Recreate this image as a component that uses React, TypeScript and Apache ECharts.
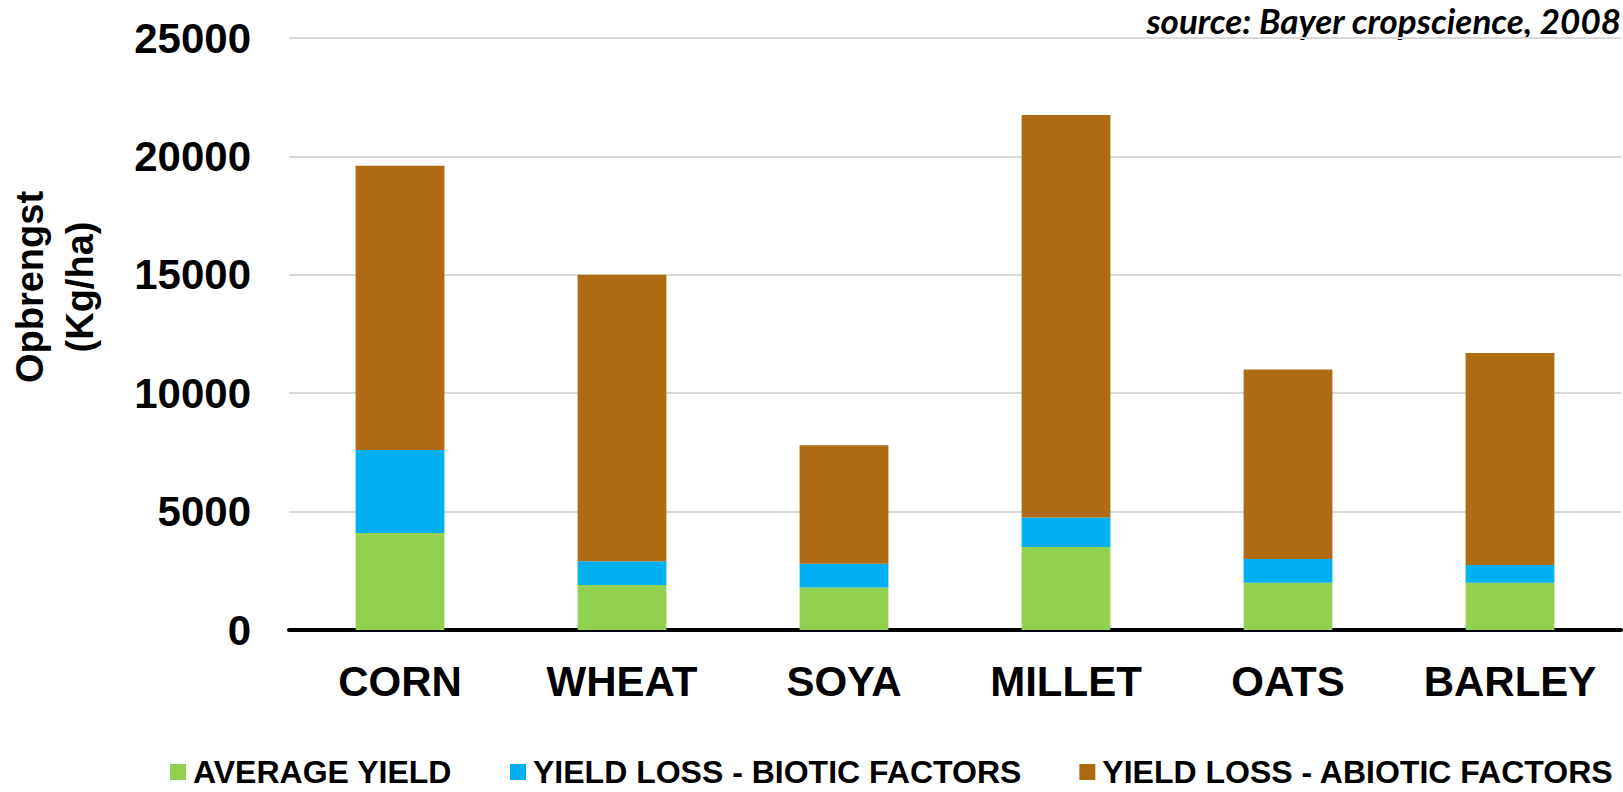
import React, { useEffect, useRef } from "react";
import * as echarts from "echarts";

const categories = ["CORN", "WHEAT", "SOYA", "MILLET", "OATS", "BARLEY"];
const averageYield = [4100, 1900, 1800, 3500, 2000, 2000];
const bioticLoss = [3500, 1000, 1000, 1250, 1000, 750];
const abioticLoss = [12000, 12100, 5000, 17000, 8000, 8950];
const seriesNames = [
  "AVERAGE YIELD",
  "YIELD LOSS - BIOTIC FACTORS",
  "YIELD LOSS - ABIOTIC FACTORS",
];
const colors = ["#92D050", "#00B0F0", "#AE6B12"];
const sourceText = "source: Bayer cropscience, 2008";
const yTitle = "Opbrengst\n(Kg/ha)";

const FONT = "'Liberation Sans', Arial, sans-serif";

export default function App() {
  const ref = useRef<HTMLDivElement>(null);
  useEffect(() => {
    document.body.style.margin = "0";
    const chart = echarts.init(ref.current!, null, { renderer: "svg" });
    const data = [averageYield, bioticLoss, abioticLoss];
    chart.setOption({
      animation: false,
      backgroundColor: "#ffffff",
      grid: { left: 289, right: 2, top: 38, bottom: 162, containLabel: false },
      xAxis: {
        type: "category",
        data: categories,
        axisLine: { lineStyle: { color: "#000", width: 4 } },
        axisTick: { show: false },
        axisLabel: {
          interval: 0,
          color: "#000",
          fontFamily: FONT,
          fontWeight: "bold",
          fontSize: 42,
          margin: 30,
        },
      },
      yAxis: {
        type: "value",
        min: 0,
        max: 25000,
        interval: 5000,
        axisLine: { show: false },
        axisTick: { show: false },
        splitLine: { lineStyle: { color: "#d9d9d9", width: 2 } },
        axisLabel: {
          color: "#000",
          fontFamily: FONT,
          fontWeight: "bold",
          fontSize: 42,
          margin: 38,
          formatter: (v: number) => String(v),
        },
      },
      legend: {
        left: 170,
        top: 756,
        padding: 0,
        itemWidth: 16,
        itemHeight: 16,
        itemGap: 58,
        icon: "rect",
        data: seriesNames,
        textStyle: {
          color: "#000",
          fontFamily: FONT,
          fontWeight: "bold",
          fontSize: 32,
          padding: [0, 0, 0, 2],
        },
      },
      graphic: [
        {
          type: "text",
          x: 1621,
          y: 2,
          style: {
            text: sourceText,
            align: "right",
            verticalAlign: "top",
            fill: "#000",
            font: "italic bold 35px Lato, 'Open Sans', sans-serif",
          },
        },
        {
          type: "text",
          x: 55,
          y: 287,
          rotation: Math.PI / 2,
          style: {
            text: yTitle,
            align: "center",
            verticalAlign: "middle",
            fill: "#000",
            lineHeight: 50,
            font: "bold 38px 'Liberation Sans', Arial, sans-serif",
          },
        },
      ],
      series: seriesNames.map((name, i) => ({
        name,
        type: "bar",
        stack: "total",
        barWidth: "40%",
        data: data[i],
        itemStyle: { color: colors[i] },
      })),
    });
    return () => chart.dispose();
  }, []);
  return <div ref={ref} style={{ width: 1623, height: 792 }} />;
}
